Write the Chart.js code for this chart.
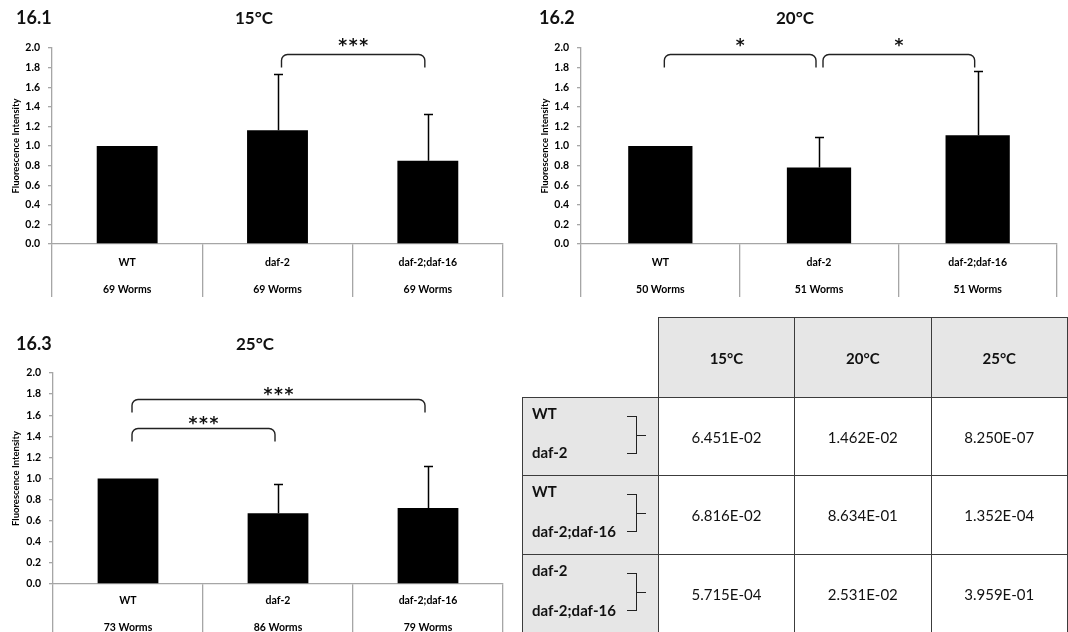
<!DOCTYPE html>
<html><head><meta charset="utf-8">
<script src="https://cdn.jsdelivr.net/npm/chart.js@4.4.1/dist/chart.umd.min.js"></script>
<style>
html,body{margin:0;padding:0;background:#fff;width:1068px;height:632px;overflow:hidden;font-family:Lato,"Open Sans",sans-serif;color:#111;}
canvas{position:absolute;}
.lbl{position:absolute;font-weight:bold;white-space:nowrap;transform:translateY(-50%);}
.panel{font-size:18px;}
.ttl{font-size:17px;transform:translate(-50%,-50%);}
table{position:absolute;left:522px;top:317px;border-collapse:collapse;table-layout:fixed;}
td{border:1.5px solid #3c3c3c;padding:0;font-size:15px;text-align:center;vertical-align:middle;color:#111;}
td.hd{background:#e6e6e6;font-weight:bold;}
td.rl{background:#e6e6e6;position:relative;font-weight:bold;text-align:left;}
td.blank{border-top:none;border-left:none;background:#fff;}
.rt{position:absolute;left:9px;line-height:16px;}
.br{position:absolute;left:104px;width:9px;border:1.4px solid #222;border-left:none;}
.tk{position:absolute;left:114px;width:9px;border-top:1.4px solid #222;}
</style>
</head><body>
<canvas id="c1" width="510" height="300" style="left:0;top:0"></canvas>
<canvas id="c2" width="535" height="300" style="left:529px;top:0"></canvas>
<canvas id="c3" width="510" height="332" style="left:0;top:300px"></canvas>
<div class="lbl panel" style="left:16px;top:17px">16.1</div>
<div class="lbl ttl" style="left:254px;top:17px">15°C</div>
<div class="lbl panel" style="left:539px;top:17px">16.2</div>
<div class="lbl ttl" style="left:795px;top:17px">20°C</div>
<div class="lbl panel" style="left:16px;top:343px">16.3</div>
<div class="lbl ttl" style="left:255px;top:343px">25°C</div>
<div class="lbl panel" style="left:531px;top:343px">16.4</div>
<table id="tbl"></table>
<script>
// ---------- data ----------
const categories = ["WT", "daf-2", "daf-2;daf-16"];
const worms15 = [69, 69, 69];
const worms20 = [50, 51, 51];
const worms25 = [73, 86, 79];
const mean15 = [1.00, 1.16, 0.85];
const err15  = [0, 0.57, 0.48];
const mean20 = [1.00, 0.78, 1.11];
const err20  = [0, 0.31, 0.66];
const mean25 = [1.00, 0.67, 0.72];
const err25  = [0, 0.28, 0.40];
const yMax = 2.0;
const yStep = 0.2;
// significance brackets: category pairs, bracket level (axis units), label
const sigPairs15 = [[1, 2]];
const sigLevel15 = [1.94];
const sigLabel15 = ["***"];
const sigPairs20 = [[0, 1], [1, 2]];
const sigLevel20 = [1.94, 1.94];
const sigLabel20 = ["*", "*"];
const sigPairs25 = [[0, 1], [0, 2]];
const sigLevel25 = [1.48, 1.75];
const sigLabel25 = ["***", "***"];
// p-value table
const tempLabels = ["15°C", "20°C", "25°C"];
const comparisons = [["WT", "daf-2"], ["WT", "daf-2;daf-16"], ["daf-2", "daf-2;daf-16"]];
const pValues15 = ["6.451E-02", "6.816E-02", "5.715E-04"];
const pValues20 = ["1.462E-02", "8.634E-01", "2.531E-02"];
const pValues25 = ["8.250E-07", "1.352E-04", "3.959E-01"];

// ---------- plugins ----------
const errPlugin = {
  id: 'errBars',
  afterDatasetsDraw(chart) {
    const ds = chart.data.datasets[0];
    const xs = chart.scales.x, ys = chart.scales.y, ctx = chart.ctx;
    ctx.save();
    ctx.strokeStyle = '#000'; ctx.lineWidth = 1.5;
    ds.data.forEach((v, i) => {
      const e = ds.errors[i];
      if (!e) return;
      const px = Math.round(xs.getPixelForValue(i)) + 0.5;
      const y0 = ys.getPixelForValue(v), y1 = Math.round(ys.getPixelForValue(v + e)) + 0.5;
      ctx.beginPath();
      ctx.moveTo(px, y0); ctx.lineTo(px, y1);
      ctx.moveTo(px - 4.5, y1); ctx.lineTo(px + 4.5, y1);
      ctx.stroke();
    });
    ctx.restore();
  }
};
const sigPlugin = {
  id: 'sigBars',
  afterDraw(chart, args, o) {
    const xs = chart.scales.x, ys = chart.scales.y, ctx = chart.ctx;
    ctx.save();
    ctx.strokeStyle = '#222'; ctx.lineWidth = 1.4; ctx.fillStyle = '#111';
    o.pairs.forEach((p, k) => {
      const x1 = xs.getPixelForValue(p[0]) + 4, x2 = xs.getPixelForValue(p[1]) - 3;
      const yt = Math.round(ys.getPixelForValue(o.levels[k])) + 0.5;
      const leg = 13, r = 6;
      ctx.beginPath();
      ctx.moveTo(x1, yt + leg);
      ctx.arcTo(x1, yt, x1 + r, yt, r);
      ctx.lineTo(x2 - r, yt);
      ctx.arcTo(x2, yt, x2, yt + leg, r);
      ctx.lineTo(x2, yt + leg);
      ctx.stroke();
      const txt = o.labels[k];
      ctx.font = 'bold 17px "DejaVu Sans"';
      ctx.textAlign = 'center'; ctx.textBaseline = 'alphabetic';
      const m = ctx.measureText('*');
      const cy = yt - o.lift;
      const by = cy + (m.actualBoundingBoxAscent - m.actualBoundingBoxDescent) / 2;
      const cx = (x1 + x2) / 2, sp = 10.5;
      for (let i = 0; i < txt.length; i++) {
        ctx.fillText(txt[i], cx + (i - (txt.length - 1) / 2) * sp, by);
      }
    });
    ctx.restore();
  }
};

const GRAY = '#a6a6a6';
function makeChart(id, means, errs, worms, pairs, levels, labels, g) {
  const xLabels = categories.map((c, i) => [c, "", worms[i] + " Worms"]);
  return new Chart(document.getElementById(id), {
    type: 'bar',
    data: { labels: xLabels, datasets: [{ data: means, errors: errs, backgroundColor: '#000', borderWidth: 0, barPercentage: 0.405, categoryPercentage: 1 }] },
    options: {
      responsive: false, animation: false, devicePixelRatio: 1,
      layout: { padding: { top: g.padTop, right: 7, left: 0, bottom: 0 } },
      plugins: { legend: { display: false }, tooltip: { enabled: false },
        sigBars: { pairs, levels, labels, lift: g.lift } },
      scales: {
        x: {
          grid: { offset: true, drawOnChartArea: false, drawTicks: true, tickLength: g.divLen, color: GRAY, lineWidth: 1.3 },
          border: { color: GRAY, width: 1.3 },
          ticks: { autoSkip: false, maxRotation: 0, minRotation: 0, padding: g.labelPad, color: '#000',
                   font: { family: 'Lato', weight: 'bold', size: 10.5, lineHeight: 1.3 } },
          afterFit(s) { s.height = g.xHeight; }
        },
        y: {
          min: 0, max: yMax,
          ticks: { stepSize: yStep, padding: 8, color: '#000', font: { family: 'Lato', weight: 'bold', size: 10.5 },
                   callback: v => Number(v).toFixed(1) },
          grid: { drawOnChartArea: false, tickLength: 4, color: GRAY, lineWidth: 1.3 },
          border: { color: GRAY, width: 1.3 },
          title: { display: true, text: 'Fluorescence Intensity', color: '#000',
                   font: { family: 'Lato', weight: 'bold', size: 9.5 }, padding: { top: 10.5, bottom: 0 } },
          afterFit(s) { s.width = g.yWidth; }
        }
      }
    },
    plugins: [errPlugin, sigPlugin]
  });
}

makeChart('c1', mean15, err15, worms15, sigPairs15, sigLevel15, sigLabel15,
  { padTop: 48, xHeight: 56, divLen: 53, labelPad: -41.5, yWidth: 52, lift: 12 });
makeChart('c2', mean20, err20, worms20, sigPairs20, sigLevel20, sigLabel20,
  { padTop: 48, xHeight: 56, divLen: 53, labelPad: -41.5, yWidth: 52, lift: 12 });
makeChart('c3', mean25, err25, worms25, sigPairs25, sigLevel25, sigLabel25,
  { padTop: 73, xHeight: 48, divLen: 48, labelPad: -38.5, yWidth: 53, lift: 8 });

// ---------- table ----------
(function buildTable() {
  const t = document.getElementById('tbl');
  const cg = document.createElement('colgroup');
  [137.5, 137.5, 137.5, 137.5].forEach(w => { const c = document.createElement('col'); c.style.width = w + 'px'; cg.appendChild(c); });
  t.appendChild(cg);
  const hr = t.insertRow(); hr.style.height = '80px';
  const b = hr.insertCell(); b.className = 'blank';
  tempLabels.forEach(l => { const c = hr.insertCell(); c.className = 'hd'; c.textContent = l; });
  const cols = [pValues15, pValues20, pValues25];
  const heights = [78, 79, 79];
  comparisons.forEach((cmp, r) => {
    const row = t.insertRow(); row.style.height = heights[r] + 'px';
    const lc = row.insertCell(); lc.className = 'rl';
    const a = document.createElement('div'); a.className = 'rt'; a.style.top = '7px'; a.textContent = cmp[0];
    const z = document.createElement('div'); z.className = 'rt'; z.style.bottom = '15px'; z.textContent = cmp[1];
    const br = document.createElement('div'); br.className = 'br'; br.style.top = '18px'; br.style.height = '36px';
    const tk = document.createElement('div'); tk.className = 'tk'; tk.style.top = '37px';
    lc.append(a, z, br, tk);
    cols.forEach(col => { const c = row.insertCell(); c.textContent = col[r]; });
  });
})();
</script>
</body></html>
